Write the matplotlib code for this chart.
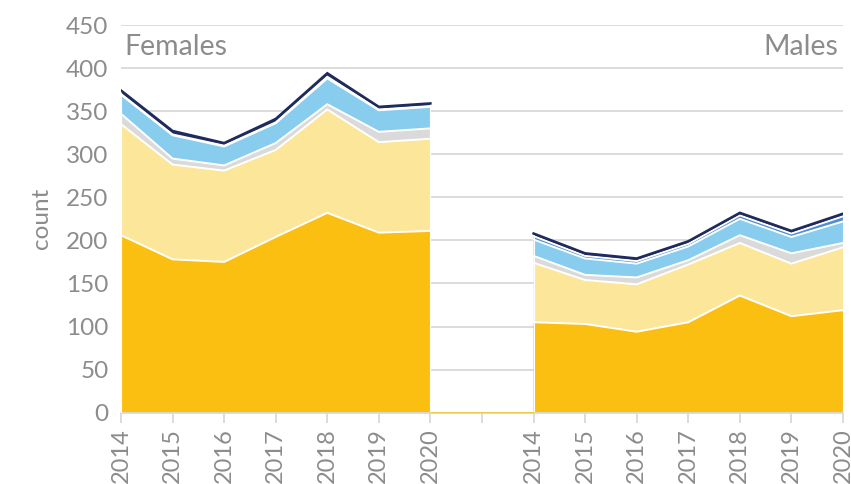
import matplotlib
matplotlib.use("Agg")
import matplotlib.pyplot as plt
import numpy as np

years = ["2014", "2015", "2016", "2017", "2018", "2019", "2020"]
groups = ["Females", "Males"]

# stacked layers, bottom to top
females_l1 = [206, 178, 175, 204, 232, 209, 211]
females_l2 = [129, 110, 106, 101, 120, 105, 107]
females_l3 = [12, 7, 6, 8, 6, 12, 12]
females_l4 = [22, 27, 22, 23, 30, 25, 25]
females_l5 = [1, 1, 1, 1, 2, 1, 1]
females_l6 = [4, 4, 3, 4, 4, 3, 3]

males_l1 = [105, 103, 94, 105, 136, 112, 119]
males_l2 = [69, 51, 55, 67, 61, 61, 73]
males_l3 = [8, 6, 8, 5, 9, 12, 5]
males_l4 = [19, 19, 16, 16, 19, 19, 25]
males_l5 = [4, 3, 3, 3, 4, 4, 6]
males_l6 = [3, 3, 3, 3, 3, 3, 3]

colors = ["#FBBF12", "#FCE699", "#DADADA", "#88CCEE", "#4E8ED2", "#1F2B5E"]
grey = "#8C8C8C"

plt.rcParams["font.family"] = ["Lato", "DejaVu Sans"]

fig = plt.figure(figsize=(8.51, 4.84), dpi=100)
ax = fig.add_axes([121 / 851, 1 - 412.7 / 484, (843 - 121) / 851, (412.7 - 25) / 484])

fem = [females_l1, females_l2, females_l3, females_l4, females_l5, females_l6]
mal = [males_l1, males_l2, males_l3, males_l4, males_l5, males_l6]
n = len(years)
x_f = np.arange(n)
x_m = np.arange(n) + n + 1

for xs, layers in [(x_f, fem), (x_m, mal)]:
    base = np.zeros(n)
    tops = []
    for vals, c in zip(layers, colors):
        top = base + np.array(vals)
        ax.fill_between(xs, base, top, facecolor=c, edgecolor="none",
                        linewidth=0, zorder=2)
        tops.append(top)
        base = top
    # white separators between layers
    for top in tops[:-1]:
        ax.plot(xs, top, color="white", lw=1.4, zorder=3)
    # white side edges
    for xe in [xs[0], xs[-1]]:
        ax.plot([xe, xe], [0, tops[-1][list(xs).index(xe)]], color="white",
                lw=0.8, zorder=3)
    # dark top outline
    ax.plot(xs, tops[-1], color=colors[-1], lw=1.8, zorder=4,
            solid_joinstyle="miter")

# thin line along the axis across the gap
ax.plot([x_f[-1], x_m[0]], [0.6, 0.6], color=colors[0], lw=0.8, alpha=0.7,
        zorder=3, clip_on=False)

ax.set_xlim(0, x_m[-1])
ax.set_ylim(0, 450)
ax.set_yticks(np.arange(0, 451, 50))
ax.grid(axis="y", color="#D9D9D9", linewidth=1.3, zorder=0)
ax.set_axisbelow(True)

ticks = list(x_f) + [n] + list(x_m)
labels = years + [""] + years
ax.set_xticks(ticks)
ax.set_xticklabels(labels, rotation=90)

for s in ["top", "right", "left"]:
    ax.spines[s].set_visible(False)
ax.spines["bottom"].set_color("#D9D9D9")
ax.spines["bottom"].set_linewidth(1.3)
ax.tick_params(axis="x", colors="#D9D9D9", length=7, width=1.3, labelcolor=grey,
               labelsize=17, pad=4)
ax.tick_params(axis="y", length=0, labelcolor=grey, labelsize=17.5, pad=9)

ax.set_ylabel("count", color=grey, fontsize=17.5, labelpad=10)

ax.text(0.06, 425, groups[0], color=grey, fontsize=20.5, ha="left", va="center")
ax.text(x_m[-1] - 0.1, 425, groups[1], color=grey, fontsize=20.5, ha="right", va="center")

fig.savefig("out.png", dpi=100)
